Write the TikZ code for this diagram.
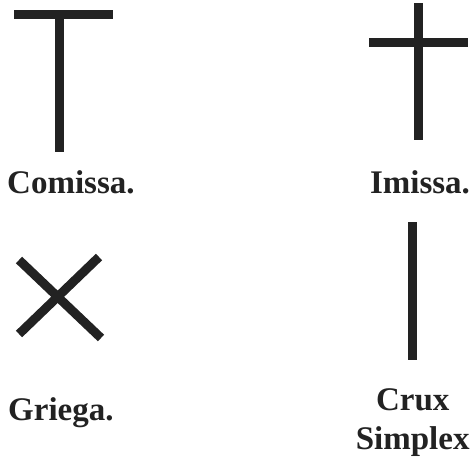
\documentclass[tikz,border=0pt]{standalone}
\usepackage{fontspec}
\setmainfont{Liberation Serif}
\usetikzlibrary{positioning}

\definecolor{inkgray}{HTML}{222222}

\begin{document}
\begin{tikzpicture}[x=1pt, y=-1pt,
    crossbar/.style={draw=inkgray, line width=9pt, line cap=butt},
    caption/.style={inner sep=0pt, font=\bfseries\fontsize{33}{39}\selectfont, text=inkgray}]
    \useasboundingbox (0,0) rectangle (472,456);
    % Comissa (T)
    \draw[crossbar] (14,14.5) -- (113,14.5);
    \draw[crossbar] (59.5,19) -- (59.5,152);
    \node[caption, anchor=base west] (comissa) at (7,193) {Comissa.};
    % Imissa
    \draw[crossbar] (418,3) -- (418,140);
    \draw[crossbar] (369,42.5) -- (468,42.5);
    \node[caption, anchor=base] (imissa) at (420,193) {Imissa.};
    % Griega (X)
    \draw[crossbar] (19,260) -- (101,338);
    \draw[crossbar] (19,334) -- (99,257);
    \node[caption, anchor=base west] (griega) at (8,420) {Griega.};
    % Crux simplex
    \draw[crossbar] (412.5,222) -- (412.5,360);
    \node[caption, anchor=base, align=center] (simplex) at (412.7,449.7) {Crux\\Simplex};
\end{tikzpicture}
\end{document}
